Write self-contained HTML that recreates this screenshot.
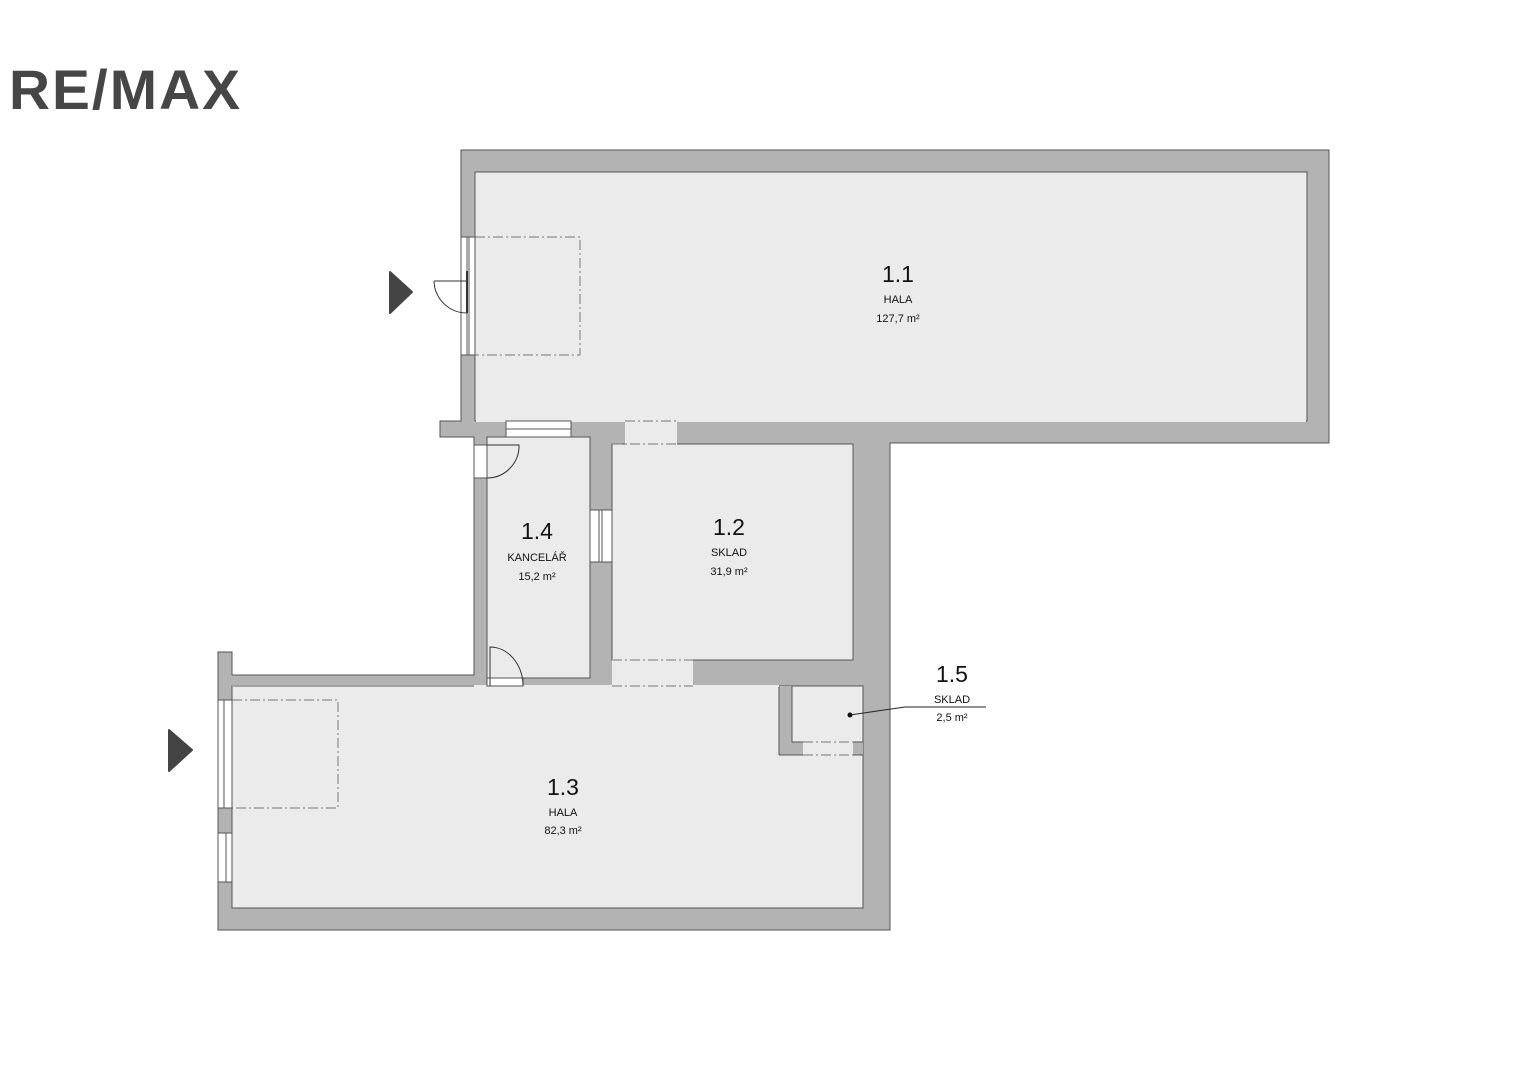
<!DOCTYPE html>
<html><head><meta charset="utf-8"><style>
html,body{margin:0;padding:0;background:#fff;width:1527px;height:1080px;overflow:hidden}
svg{position:absolute;left:0;top:0}
</style></head><body>
<svg width="1527" height="1080" viewBox="0 0 1527 1080" font-family="Liberation Sans, sans-serif">
<text x="9" y="109" font-size="56" font-weight="bold" fill="#464646" letter-spacing="2" textLength="233" lengthAdjust="spacingAndGlyphs">RE/MAX</text>
<!-- walls -->
<polygon points="461,150 1329,150 1329,443 890,443 890,930 218,930 218,652 232,652 232,675 474,675 474,437 440,437 440,421 461,421" fill="#b3b3b3" stroke="#555" stroke-width="1"/>
<g fill="#ebebeb" stroke="#555" stroke-width="1">
<rect x="475" y="172" width="832" height="249"/>
<rect x="487" y="437" width="103" height="241"/>
<rect x="612" y="444" width="241" height="216"/>
<rect x="232" y="686" width="631" height="222"/>
</g>
<rect x="779" y="686" width="84" height="69" fill="#b3b3b3"/>
<line x1="779" y1="686" x2="779" y2="755" stroke="#555"/>
<line x1="779" y1="755" x2="863" y2="755" stroke="#555"/>
<rect x="792" y="686" width="71" height="56" fill="#ebebeb" stroke="#555"/>
<!-- openings -->
<g fill="#ebebeb" stroke="none">
<rect x="625" y="420" width="52" height="25"/>
<rect x="612" y="659" width="81" height="28"/>
<rect x="803" y="741" width="50" height="15"/>
<rect x="232" y="685" width="547" height="2"/>
<rect x="476" y="420" width="830" height="2"/>
</g>
<g stroke="#777" stroke-width="1" stroke-dasharray="10,3,2,3" fill="none">
<line x1="625" y1="421" x2="677" y2="421"/><line x1="612" y1="444" x2="677" y2="444"/>
<line x1="612" y1="660" x2="693" y2="660"/><line x1="612" y1="686" x2="693" y2="686"/>
<line x1="803" y1="742" x2="853" y2="742"/><line x1="803" y1="755" x2="853" y2="755"/>
<rect x="475" y="237" width="105" height="118"/>
<rect x="232" y="700" width="106" height="108"/>
</g>
<line x1="232" y1="686" x2="474" y2="686" stroke="#555"/>
<!-- windows -->
<g fill="#fff" stroke="#555" stroke-width="1">
<rect x="461" y="237" width="14" height="118"/>
<rect x="506" y="421" width="65" height="16"/>
<rect x="590" y="510" width="22" height="52"/>
<rect x="218" y="700" width="14" height="108"/>
<rect x="218" y="833" width="14" height="49"/>
<rect x="474" y="445" width="13" height="33"/>
<rect x="487" y="678" width="36" height="8"/>
</g>
<g stroke="#555" stroke-width="1">
<line x1="467" y1="237" x2="467" y2="355"/><line x1="469" y1="237" x2="469" y2="355"/>
<line x1="506" y1="429" x2="571" y2="429"/>
<line x1="599" y1="510" x2="599" y2="562"/><line x1="602" y1="510" x2="602" y2="562"/>
<line x1="224" y1="700" x2="224" y2="808"/><line x1="226" y1="833" x2="226" y2="882"/>
</g>
<!-- doors -->
<g stroke="#333" stroke-width="1" fill="none">
<line x1="467" y1="271" x2="467" y2="313" stroke-width="2"/>
<path d="M434,281 L467,281 M434,281 A33,33 0 0 0 467,313"/>
<path d="M487,445 L519,445 A32,32 0 0 1 487,478"/>
<path d="M490,686 L490,647 A33,39 0 0 1 523,686"/>
</g>
<!-- arrows -->
<polygon points="390,272 412,292 390,313" fill="#444" stroke="#444" stroke-linejoin="round" stroke-width="2"/>
<polygon points="169,730 192,750 169,771" fill="#444" stroke="#444" stroke-linejoin="round" stroke-width="2"/>
<!-- 1.5 leader -->
<circle cx="850" cy="715" r="2.5" fill="#111"/>
<polyline points="850,715 905,707 986,707" fill="none" stroke="#222"/>
<!-- labels -->
<g fill="#111" text-anchor="middle">
<text x="898" y="282" font-size="23">1.1</text>
<text x="898" y="303" font-size="11">HALA</text>
<text x="898" y="322" font-size="11">127,7 m²</text>
<text x="729" y="535" font-size="23">1.2</text>
<text x="729" y="556" font-size="11">SKLAD</text>
<text x="729" y="575" font-size="11">31,9 m²</text>
<text x="537" y="539" font-size="23">1.4</text>
<text x="537" y="561" font-size="11">KANCELÁŘ</text>
<text x="537" y="580" font-size="11">15,2 m²</text>
<text x="563" y="795" font-size="23">1.3</text>
<text x="563" y="816" font-size="11">HALA</text>
<text x="563" y="834" font-size="11">82,3 m²</text>
<text x="952" y="682" font-size="23">1.5</text>
<text x="952" y="703" font-size="11">SKLAD</text>
<text x="952" y="721" font-size="11">2,5 m²</text>
</g>
</svg>
</body></html>
